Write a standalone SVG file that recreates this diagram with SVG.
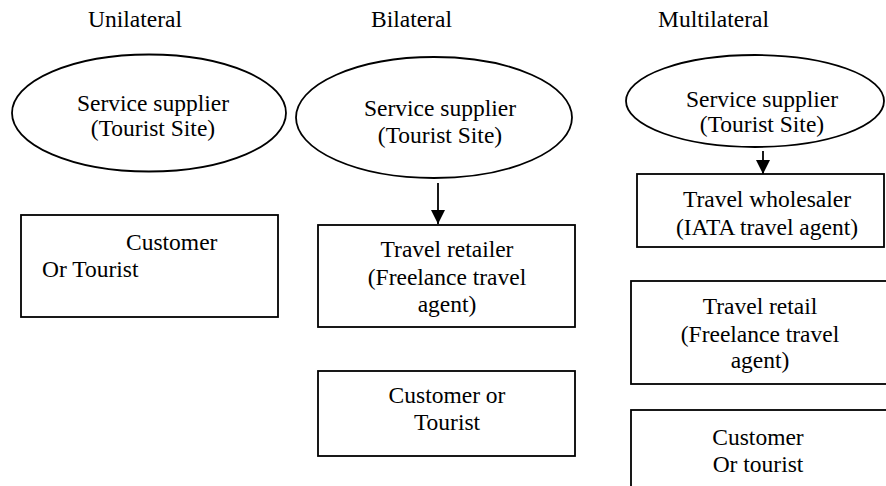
<svg xmlns="http://www.w3.org/2000/svg" width="886" height="486" viewBox="0 0 886 486" font-family="'Liberation Serif', 'Times New Roman', Tinos, 'DejaVu Serif', serif">
<defs>
<style>
text{font-family:'Liberation Serif','Times New Roman',Tinos,'DejaVu Serif',serif;font-size:23.5px;fill:#000}
.c{text-anchor:middle}
.s{fill:#fff;stroke:#000;stroke-width:1.8}
.l{stroke:#000;stroke-width:1.8;fill:none}
</style>
<marker id="ah" markerUnits="userSpaceOnUse" markerWidth="16" markerHeight="16" viewBox="0 0 16 14" refX="14" refY="7" orient="auto">
<path d="M0,0 L14,7 L0,14 Z" fill="#000"/>
</marker>
</defs>
<g id="headers">
<text x="88" y="27">Unilateral</text>
<text x="371" y="27">Bilateral</text>
<text x="658" y="27">Multilateral</text>
</g>
<g id="uni-supplier">
<ellipse class="s" cx="149" cy="113" rx="137" ry="58.5"/>
<text class="c" x="153" y="111">Service supplier</text>
<text class="c" x="153" y="136">(Tourist Site)</text>
</g>
<g id="uni-customer">
<rect class="s" x="21" y="215" width="257" height="102"/>
<text x="126" y="250">Customer</text>
<text x="42" y="277">Or Tourist</text>
</g>
<g id="bi-supplier">
<ellipse class="s" cx="434" cy="117.5" rx="138" ry="60.5"/>
<text class="c" x="440" y="116">Service supplier</text>
<text class="c" x="440" y="143">(Tourist Site)</text>
</g>
<g id="bi-retailer">
<rect class="s" x="318" y="225" width="257" height="102"/>
<text class="c" x="447" y="257">Travel retailer</text>
<text class="c" x="447" y="285">(Freelance travel</text>
<text class="c" x="447" y="312">agent)</text>
</g>
<g id="bi-customer">
<rect class="s" x="318" y="371" width="257" height="85"/>
<text class="c" x="447" y="403">Customer or</text>
<text class="c" x="447" y="430">Tourist</text>
</g>
<g id="multi-supplier">
<ellipse class="s" cx="755" cy="101" rx="129" ry="46"/>
<text class="c" x="762" y="107">Service supplier</text>
<text class="c" x="762" y="132">(Tourist Site)</text>
</g>
<g id="multi-wholesaler">
<rect class="s" x="637" y="174" width="247" height="73"/>
<text class="c" x="767" y="207">Travel wholesaler</text>
<text class="c" x="767" y="235">(IATA travel agent)</text>
</g>
<g id="multi-retail">
<rect class="s" x="631" y="281" width="260" height="103"/>
<text class="c" x="760" y="314">Travel retail</text>
<text class="c" x="760" y="342">(Freelance travel</text>
<text class="c" x="760" y="368">agent)</text>
</g>
<g id="multi-customer">
<rect class="s" x="631" y="410" width="260" height="90"/>
<text class="c" x="758" y="445">Customer</text>
<text class="c" x="758" y="472">Or tourist</text>
</g>
<g id="connectors">
<line class="l" x1="438" y1="183" x2="438" y2="224" marker-end="url(#ah)"/>
<line class="l" x1="763" y1="151" x2="763" y2="174" marker-end="url(#ah)"/>
</g>
</svg>
